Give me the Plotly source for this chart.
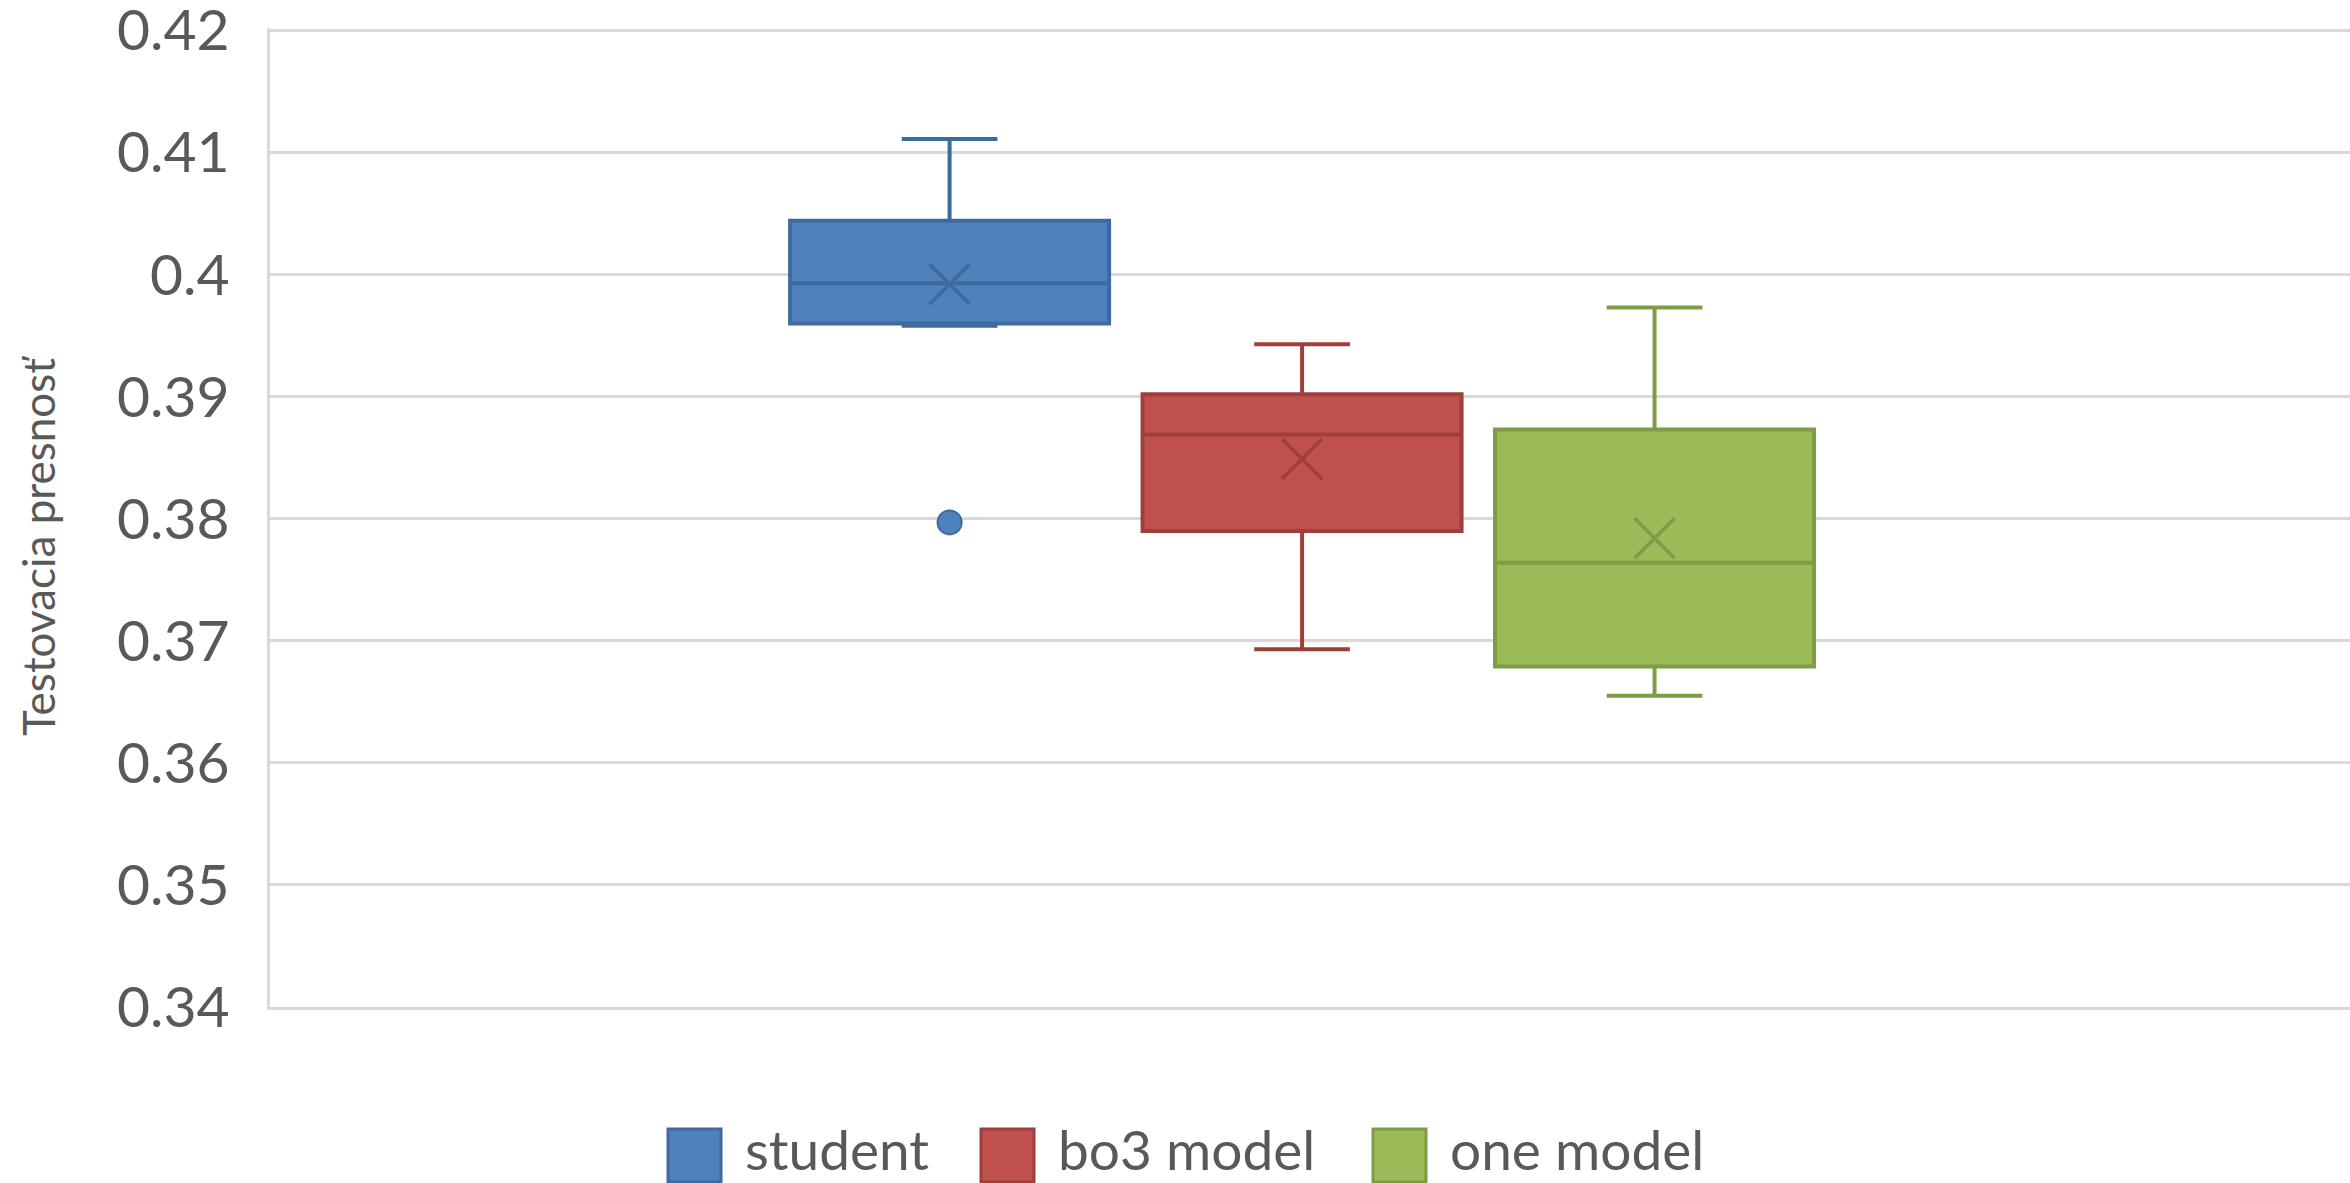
import plotly.graph_objects as go

# Five-number summaries of test accuracy for each model variant
series_names = ["student", "bo3 model", "one model"]
lower_whisker = [0.3958, 0.3693, 0.3655]
q1_values = [0.3960, 0.3790, 0.3679]
medians = [0.3993, 0.3869, 0.3764]
q3_values = [0.4044, 0.3902, 0.3873]
upper_whisker = [0.4111, 0.3943, 0.3973]
means = [0.3992, 0.3849, 0.3784]

# Outlier points (series index, value)
outlier_series = [0]
outlier_values = [0.3797]

y_tick_values = [0.34, 0.35, 0.36, 0.37, 0.38, 0.39, 0.40, 0.41, 0.42]
y_tick_labels = ["0.34", "0.35", "0.36", "0.37", "0.38", "0.39", "0.4", "0.41", "0.42"]
y_title = "Testovacia presnosť"

fill_colors = ["#4F81BD", "#C0504D", "#9BBB59"]
edge_colors = ["#3E6A9E", "#9E3F3C", "#7E9B46"]

FONT = "Lato, 'Liberation Sans', sans-serif"
TEXT_COLOR = "#595959"
GRID_COLOR = "#D9D9D9"

W, H = 2350, 1183
M_L, M_R, M_T, M_B = 270, 0, 28, 176
plot_w = W - M_L - M_R
plot_h = H - M_T - M_B

fig = go.Figure()

for i, name in enumerate(series_names):
    fig.add_trace(go.Box(
        name=name,
        x=[i],
        q1=[q1_values[i]],
        median=[medians[i]],
        q3=[q3_values[i]],
        lowerfence=[lower_whisker[i]],
        upperfence=[upper_whisker[i]],
        width=0.905,
        whiskerwidth=0.3,
        fillcolor=fill_colors[i],
        line=dict(color=edge_colors[i], width=4),
        boxpoints=False,
        showlegend=False,
        hoverinfo="skip",
    ))
    # mean marker
    fig.add_trace(go.Scatter(
        x=[i], y=[means[i]], mode="markers",
        marker=dict(symbol="x-thin-open", size=40, color=edge_colors[i],
                    line=dict(color=edge_colors[i], width=3.5)),
        showlegend=False, hoverinfo="skip",
    ))

for s, v in zip(outlier_series, outlier_values):
    fig.add_trace(go.Scatter(
        x=[s], y=[v], mode="markers",
        marker=dict(symbol="circle", size=24, color=fill_colors[s],
                    line=dict(color=edge_colors[s], width=2)),
        showlegend=False, hoverinfo="skip",
    ))

# Legend drawn as square swatches with labels below the plot
def px_to_paper_x(px):
    return (px - M_L) / plot_w

def px_to_paper_y(py):
    return (H - M_B - py) / plot_h

legend_left = [668, 981, 1373]
swatch = 53
swatch_top = 1129
annotations = []
shapes = []
for i, name in enumerate(series_names):
    x0 = legend_left[i]
    shapes.append(dict(
        type="rect", xref="paper", yref="paper",
        x0=px_to_paper_x(x0), x1=px_to_paper_x(x0 + swatch),
        y0=px_to_paper_y(swatch_top + swatch), y1=px_to_paper_y(swatch_top),
        fillcolor=fill_colors[i], line=dict(color=edge_colors[i], width=3),
        layer="above",
    ))
    annotations.append(dict(
        text=name, xref="paper", yref="paper",
        x=px_to_paper_x(x0 + swatch + 22), y=px_to_paper_y(1149),
        xanchor="left", yanchor="middle", showarrow=False,
        font=dict(family=FONT, size=55, color=TEXT_COLOR),
    ))

annotations.append(dict(
    text=y_title, xref="paper", yref="paper",
    x=px_to_paper_x(38), y=px_to_paper_y(546),
    xanchor="center", yanchor="middle", textangle=-90, showarrow=False,
    font=dict(family=FONT, size=44, color=TEXT_COLOR),
))

fig.update_layout(
    width=W, height=H,
    margin=dict(l=M_L, r=M_R, t=M_T, b=M_B, autoexpand=False),
    paper_bgcolor="white", plot_bgcolor="white",
    xaxis=dict(range=[-1.928, 3.973], showticklabels=False, showgrid=False,
               zeroline=False, showline=True, linecolor=GRID_COLOR, linewidth=3,
               ticks="", automargin=False),
    yaxis=dict(range=[0.34, 0.4202], tickvals=y_tick_values, ticktext=y_tick_labels,
               showgrid=True, gridcolor=GRID_COLOR, gridwidth=3,
               zeroline=False, showline=True, linecolor=GRID_COLOR, linewidth=3,
               ticks="", ticklabelstandoff=26, ticklabeloverflow="allow",
               automargin=False,
               tickfont=dict(family=FONT, size=57, color=TEXT_COLOR)),
    shapes=shapes,
    annotations=annotations,
    showlegend=False,
)

fig.write_html("out.html")
